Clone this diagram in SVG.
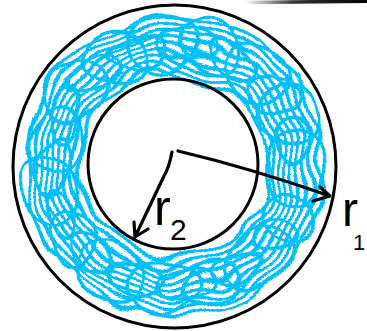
<svg xmlns="http://www.w3.org/2000/svg" width="367" height="331" viewBox="0 0 367 331">
<style>
.scrib{fill:none;stroke:#00BFFF;stroke-width:3.4;stroke-linecap:round;stroke-linejoin:round}
.ring{fill:none;stroke:#000;stroke-width:3}
.arr{fill:none;stroke:#000;stroke-width:3.2;stroke-linecap:round;stroke-linejoin:round}
.lbl{font-family:"Liberation Sans",Arial,sans-serif;fill:#000}
</style>
<defs>
<filter id="wob1" filterUnits="userSpaceOnUse" x="0" y="0" width="367" height="331">
<feTurbulence type="fractalNoise" baseFrequency="0.022" numOctaves="1" seed="3" result="t"/>
<feDisplacementMap in="SourceGraphic" in2="t" scale="34" xChannelSelector="R" yChannelSelector="G"/>
</filter>
<filter id="wob2" filterUnits="userSpaceOnUse" x="0" y="0" width="367" height="331">
<feTurbulence type="fractalNoise" baseFrequency="0.018" numOctaves="1" seed="11" result="t"/>
<feDisplacementMap in="SourceGraphic" in2="t" scale="30" xChannelSelector="G" yChannelSelector="B"/>
</filter>
<linearGradient id="topg" x1="245" y1="0" x2="367" y2="0" gradientUnits="userSpaceOnUse">
<stop offset="0" stop-color="#000" stop-opacity="0"/>
<stop offset="0.4" stop-color="#000" stop-opacity="0.8"/>
<stop offset="1" stop-color="#000"/>
</linearGradient>
</defs>
<g id="fill-scribble">
<g class="scrib" filter="url(#wob1)">
<circle cx="174" cy="166" r="93"/>
<circle cx="174" cy="166" r="100"/>
<circle cx="174" cy="166" r="107"/>
<circle cx="174" cy="166" r="114"/>
<circle cx="174" cy="166" r="121"/>
<circle cx="174" cy="166" r="128"/>
<circle cx="174" cy="166" r="135"/>
<circle cx="174" cy="166" r="142"/>
<circle cx="174" cy="166" r="149"/>
</g>
<g class="scrib" filter="url(#wob2)">
<ellipse cx="295" cy="166" rx="34" ry="28" transform="rotate(90 295 166)"/>
<ellipse cx="287" cy="216" rx="30" ry="24" transform="rotate(114 287 216)"/>
<ellipse cx="256" cy="258" rx="34" ry="26" transform="rotate(138 256 258)"/>
<ellipse cx="212" cy="283" rx="32" ry="24" transform="rotate(162 212 283)"/>
<ellipse cx="161" cy="288" rx="36" ry="26" transform="rotate(186 161 288)"/>
<ellipse cx="113" cy="273" rx="32" ry="28" transform="rotate(210 113 273)"/>
<ellipse cx="75" cy="239" rx="30" ry="26" transform="rotate(234 75 239)"/>
<ellipse cx="54" cy="192" rx="34" ry="28" transform="rotate(258 54 192)"/>
<ellipse cx="54" cy="140" rx="32" ry="26" transform="rotate(282 54 140)"/>
<ellipse cx="75" cy="93" rx="34" ry="28" transform="rotate(306 75 93)"/>
<ellipse cx="113" cy="59" rx="32" ry="26" transform="rotate(330 113 59)"/>
<ellipse cx="161" cy="44" rx="36" ry="26" transform="rotate(354 161 44)"/>
<ellipse cx="212" cy="49" rx="32" ry="26" transform="rotate(18 212 49)"/>
<ellipse cx="256" cy="74" rx="32" ry="28" transform="rotate(42 256 74)"/>
<ellipse cx="287" cy="116" rx="30" ry="26" transform="rotate(66 287 116)"/>
<ellipse cx="272" cy="96" rx="24" ry="16" transform="rotate(20 272 96)"/>
<ellipse cx="291" cy="141" rx="22" ry="14" transform="rotate(80 291 141)"/>
<ellipse cx="271" cy="237" rx="24" ry="16" transform="rotate(150 271 237)"/>
<ellipse cx="234" cy="270" rx="26" ry="14" transform="rotate(170 234 270)"/>
<ellipse cx="137" cy="280" rx="28" ry="16" transform="rotate(10 137 280)"/>
<ellipse cx="94" cy="255" rx="24" ry="16" transform="rotate(40 94 255)"/>
<ellipse cx="64" cy="215" rx="26" ry="14" transform="rotate(75 64 215)"/>
<ellipse cx="54" cy="166" rx="30" ry="14" transform="rotate(95 54 166)"/>
<ellipse cx="64" cy="117" rx="26" ry="14" transform="rotate(110 64 117)"/>
<ellipse cx="94" cy="77" rx="28" ry="16" transform="rotate(140 94 77)"/>
<ellipse cx="137" cy="52" rx="30" ry="14" transform="rotate(170 137 52)"/>
<ellipse cx="187" cy="47" rx="30" ry="14" transform="rotate(5 187 47)"/>
<ellipse cx="234" cy="62" rx="28" ry="16" transform="rotate(30 234 62)"/>
<ellipse cx="187" cy="285" rx="28" ry="16" transform="rotate(175 187 285)"/>
</g>
</g>
<g id="outer-circle"><circle class="ring" cx="174.5" cy="166.5" r="161.5"/></g>
<g id="inner-circle"><circle class="ring" cx="173" cy="164" r="85" stroke-width="2.6"/></g>
<g id="connectors">
<path class="arr" d="M178,151 Q250,168 330,196 M320,187 L330,196 L313,201"/>
<path class="arr" d="M172,152 Q169,168 164,176 L135,237 M134,222 L135,237 L148,229"/>
<line x1="245" y1="2.5" x2="367" y2="1.2" stroke="url(#topg)" stroke-width="3.5"/>
</g>
<g id="label-r2">
<text class="lbl" x="154" y="225" font-size="50">r</text>
<text class="lbl" x="170" y="240" font-size="30">2</text>
</g>
<g id="label-r1">
<text class="lbl" x="342" y="226" font-size="48">r</text>
<text class="lbl" x="353" y="250" font-size="22">1</text>
</g>
</svg>
